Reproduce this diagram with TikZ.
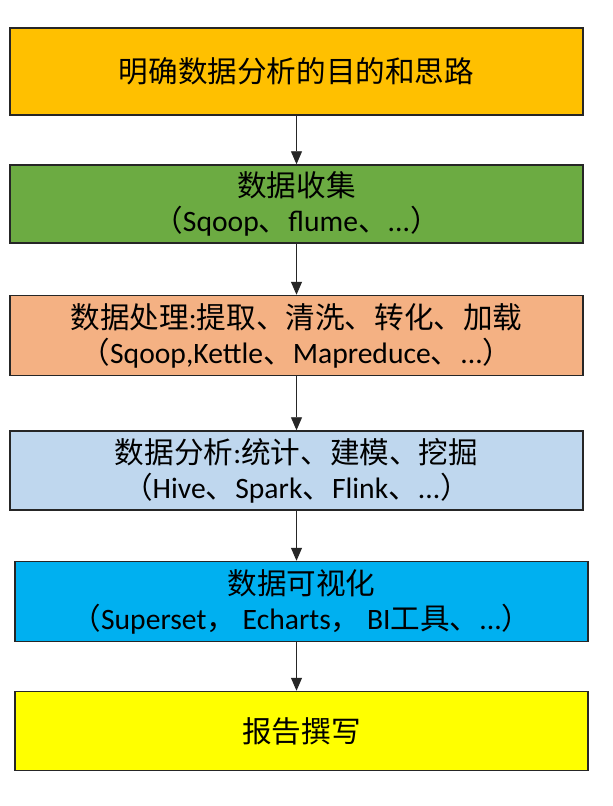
\documentclass[tikz,border=0pt]{standalone}
\usepackage{fontspec}
\setmainfont{Carlito}
\newfontfamily\cjk{Noto Sans CJK SC}
\usetikzlibrary{arrows.meta}
\definecolor{cOrange}{HTML}{FFC000}
\definecolor{cGreen}{HTML}{6CAB42}
\definecolor{cSalmon}{HTML}{F4B183}
\definecolor{cLightBlue}{HTML}{BFD7EE}
\definecolor{cBlue}{HTML}{00B0F0}
\definecolor{cYellow}{HTML}{FFFF00}
\begin{document}
\begin{tikzpicture}[x=1pt,y=-1pt,
  stagebox/.style={draw=black!85, line width=1.5pt, minimum width=573pt, align=center, inner sep=0pt,
    font=\fontsize{29.6}{35}\selectfont},
  arr/.style={draw=black!85, line width=0.9pt, -{Triangle[width=11pt,length=13pt]}}]
\useasboundingbox (0,0) rectangle (613,806);
\fill[white] (0,0) rectangle (613,806);
\node[stagebox, fill=cOrange, minimum height=87pt] (b1) at (296.5,71.5) {{\cjk 明确数据分析的目的和思路}};
\node[stagebox, fill=cGreen, minimum height=78pt] (b2) at (296.5,204) {{\cjk 数据收集}\\{\cjk （}Sqoop{\cjk 、}flume{\cjk 、}...{\cjk ）}};
\node[stagebox, fill=cSalmon, minimum height=80pt] (b3) at (296.5,335.5) {{\cjk 数据处理}:{\cjk 提取、清洗、转化、加载}\\{\cjk （}Sqoop,Kettle{\cjk 、}Mapreduce{\cjk 、}...{\cjk ）}};
\node[stagebox, fill=cLightBlue, minimum height=79pt] (b4) at (296.5,470.5) {{\cjk 数据分析}:{\cjk 统计、建模、挖掘}\\{\cjk （}Hive{\cjk 、}Spark{\cjk 、}Flink{\cjk 、}...{\cjk ）}};
\node[stagebox, fill=cBlue, minimum height=80pt] (b5) at (301.5,601.5) {{\cjk 数据可视化}\\{\cjk （}Superset{\cjk ，} Echarts{\cjk ，} BI{\cjk 工具、}...{\cjk ）}};
\node[stagebox, fill=cYellow, minimum height=79pt] (b6) at (301.5,731) {{\cjk 报告撰写}};
\draw[arr] (b1.south) -- (b1.south |- b2.north);
\draw[arr] (b2.south) -- (b2.south |- b3.north);
\draw[arr] (b3.south) -- (b3.south |- b4.north);
\draw[arr] (b4.south) -- (b4.south |- b5.north);
\draw[arr] (b4.south |- b5.south) -- (b4.south |- b6.north);
\end{tikzpicture}
\end{document}
